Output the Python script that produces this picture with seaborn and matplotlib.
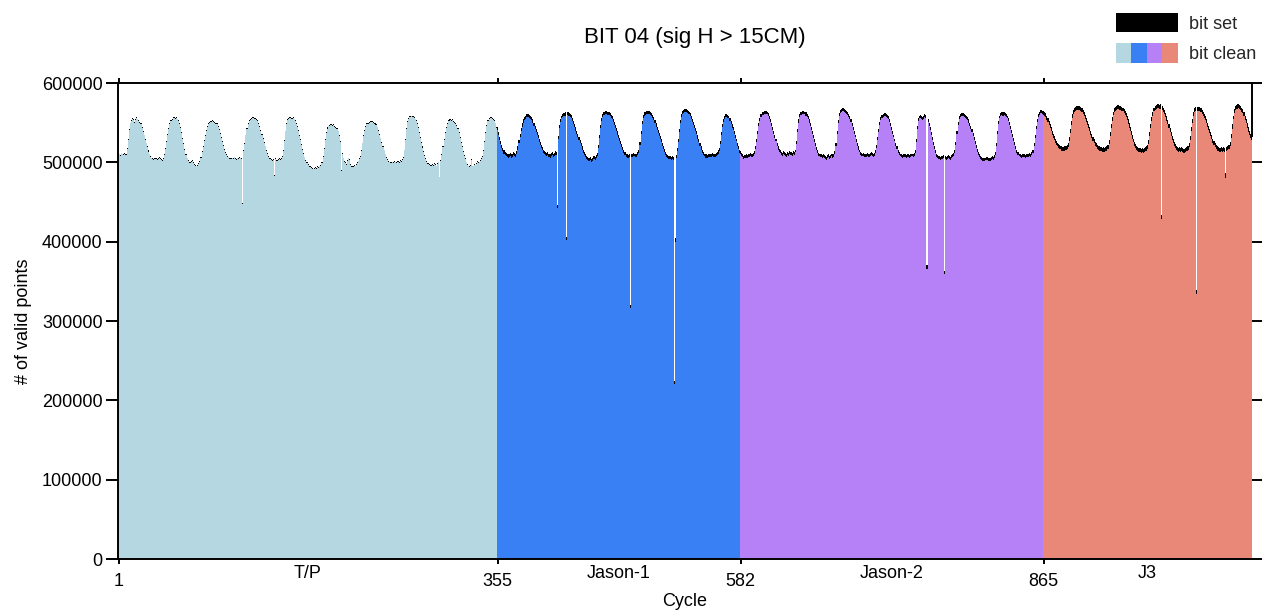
import numpy as np
import pandas as pd
import matplotlib
matplotlib.use("Agg")
import matplotlib.pyplot as plt
import seaborn as sns
from matplotlib.patches import Patch, Rectangle
from matplotlib.legend_handler import HandlerBase
from matplotlib.ticker import FixedLocator, FixedFormatter

TITLE = "BIT 04 (sig H > 15CM)"
MISSIONS = ["T/P", "Jason-1", "Jason-2", "J3"]
COLORS = ["#b5d7e1", "#3a80f5", "#b680f6", "#e98878"]
Y_TICKS = [0, 100000, 200000, 300000, 400000, 500000, 600000]

# number of valid points per cycle (total, in thousands)
TP_TOTAL = [
    510, 511, 509, 512, 511, 510, 512, 511,
    518, 530, 542, 550, 553,
    556, 554, 551, 555, 557, 555, 553, 551, 549,
    545, 540, 535, 530, 525, 520, 515, 511, 508, 506,
    505, 504, 505, 506, 504, 505, 507, 506, 504, 503, 506,
    510, 518, 527, 536, 543, 549, 553, 555,
    557, 557, 556, 557, 555, 553,
    549, 544, 538, 531, 524, 517, 511, 506, 503,
    501, 500, 502, 503, 500, 498, 497, 496, 497, 499, 502,
    507, 514, 521, 528, 535, 541, 546, 549, 551,
    552, 552, 553, 552, 551, 550, 549,
    546, 542, 537, 532, 527, 522, 517, 513, 510, 508, 507, 506,
    505, 506, 505, 507, 505, 504, 506, 505, 507, 506, 505,
    449,
    515, 525, 535, 543, 549, 553, 555,
    556, 557, 557, 556, 556, 555, 553,
    550, 546, 541, 536, 531, 526, 521, 516, 512, 508, 506, 505, 504,
    503, 504, 484, 505, 503, 504, 505, 504, 506, 508,
    515, 528, 540, 549, 554,
    556, 557, 557, 556, 557, 555, 553,
    550, 546, 541, 535, 529, 523, 517, 512, 507, 503, 500, 498, 496, 495,
    494, 493, 492, 493, 494, 493, 495, 494, 496, 497, 500,
    508, 518, 529, 538, 544,
    546, 547, 548, 548, 547, 548, 546, 545, 543, 540,
    535, 527, 490, 512, 506, 502,
    500, 498, 503, 506, 504, 498, 496, 495, 497, 496, 498, 500, 502, 505, 508,
    515, 525, 534, 541, 546, 549,
    550, 551, 552, 552, 552, 551, 550, 549, 548,
    545, 541, 536, 531, 526, 521, 516, 511, 507, 504, 502, 501,
    500, 500, 501, 500, 502, 501, 500, 502, 501, 503, 502, 504, 507,
    516, 530, 543, 552,
    556, 558, 559, 559, 558, 557, 555, 553,
    549, 544, 538, 532, 526, 520, 514, 509, 505, 502, 499,
    498, 497, 497, 498, 497, 499, 498, 496, 499, 501, 482, 503,
    510, 520, 530, 538, 545, 550, 553,
    554, 554, 553, 554, 552, 551, 549, 547,
    543, 538, 532, 526, 520, 514, 509, 505, 501, 498,
    496, 495, 497, 504, 496, 498, 497, 499, 502, 500, 501, 503, 505, 508,
    516, 527, 538, 547, 553,
    556, 557, 557, 556, 555, 553, 550, 545,
]

J1_TOTAL = [
    544, 538, 532, 527, 522, 518, 515, 513,
    512, 511, 510, 511, 512, 510, 511, 513, 512, 511, 514,
    520, 528, 536, 543, 549, 554, 557, 559,
    561, 561, 561, 560, 559, 557,
    554, 550, 546, 542, 538, 534, 530, 526, 522, 519, 516, 514,
    513, 512, 513, 511, 510, 512, 513, 511, 512, 514, 513,
    446,
    533, 547, 555, 559,
    561, 562, 563,
    406,
    563, 563, 562, 561, 560,
    556, 552, 548, 544, 540, 536, 532, 528, 524, 520, 516, 513,
    510, 508, 507, 506, 505, 507, 504, 506, 508, 507, 509, 512,
    522, 535, 547, 556, 561,
    563, 564, 565, 565, 564, 563, 562, 560, 558,
    555, 551, 547, 543, 539, 535, 531, 527, 523, 519, 516, 513,
    511, 510, 509, 510, 320, 511, 510, 512, 511, 510, 511, 513, 516,
    526, 540, 552, 560,
    563, 564, 565, 565, 565, 565, 564, 562, 560,
    557, 553, 549, 545, 541, 537, 533, 529, 525, 521, 517, 513, 510,
    509, 508, 508, 507, 508, 507, 224, 404, 509,
    518, 530, 542, 553, 561, 565,
    566, 567, 567, 566, 565, 564, 562,
    559, 555, 551, 547, 543, 539, 534, 530, 525, 520, 516, 513,
    511, 510, 510, 509, 510, 510, 511, 510, 512, 511, 510, 512, 513, 515, 518,
    527, 538, 548, 555, 559,
    561, 561, 560, 559,
    556, 552, 548, 544, 540, 535, 530, 525, 520, 516,
]

J2_TOTAL = [
    514, 512, 510, 508, 509, 510, 509, 511, 510, 512, 511, 510, 512, 514,
    520, 530, 540, 549, 556, 561, 563,
    564, 565, 565, 565, 564, 562,
    559, 555, 550, 545, 540, 535, 530, 525, 520, 517, 515,
    513, 512, 514, 513, 512, 511, 513, 512, 514, 513, 512, 514, 513, 516,
    527, 542, 554, 561,
    563, 564, 565, 565, 564, 563, 561,
    558, 554, 549, 544, 539, 534, 529, 524, 519, 515, 512,
    511, 510, 509, 510, 509, 508, 507, 509, 510, 508, 509, 511, 510, 511, 514,
    525, 540, 553, 562, 566,
    567, 568, 568, 567, 566, 565, 563, 561,
    558, 554, 550, 545, 540, 535, 530, 525, 520, 516, 513, 512,
    511, 512, 510, 511, 512, 511, 510, 512, 513, 512, 511, 512, 515,
    522, 532, 542, 551, 557, 560,
    561, 562, 562, 561, 560, 558,
    555, 550, 545, 540, 535, 530, 525, 520, 516, 513, 511,
    510, 509, 510, 511, 510, 509, 511, 510, 509, 510, 511, 510, 512, 516,
    530, 546, 556,
    559, 560, 558, 557, 559, 561, 560,
    370,
    555, 550, 544, 538, 532, 526, 520, 515, 511, 509,
    508, 508, 507, 508, 509, 363, 508, 507, 508, 509, 508, 507, 509, 510, 512, 516,
    526, 540, 551, 558, 561,
    562, 562, 562, 561, 560, 559, 557,
    554, 550, 546, 542, 537, 532, 527, 522, 517, 513, 510, 508,
    507, 506, 506, 505, 506, 507, 506, 505, 506, 507, 508, 507, 509, 513,
    525, 540, 552, 559, 562,
    563, 563, 563, 562, 561, 559,
    556, 551, 546, 541, 536, 531, 526, 521, 516, 513, 511,
    510, 509, 510, 511, 510, 509, 510, 511, 510, 512, 511, 513, 516,
    524, 535, 546, 555, 561, 564,
    566, 566, 565,
]

J3_TOTAL = [
    565, 564, 562, 559, 556, 552, 548, 544, 540, 536, 533, 530, 527, 525, 523, 522,
    521, 520, 519, 520, 520, 521, 522, 524,
    532, 542, 552, 561, 566, 569,
    570, 571, 571, 571, 570, 569, 568, 566,
    563, 560, 556, 552, 548, 544, 540, 536, 532, 529, 526, 524, 522, 521, 520, 519,
    519, 518, 519, 518, 519, 520, 522,
    528, 538, 548, 557, 564, 568, 570,
    571, 572, 572, 571, 571, 570, 569, 567, 565,
    562, 558, 554, 549, 544, 539, 534, 530, 526, 523, 521, 519,
    518, 518, 517, 518, 517, 518, 519, 520, 522,
    528, 538, 548, 557, 564, 569, 571,
    572, 573, 573, 572, 573, 434, 571, 569,
    566, 562, 558, 553, 548, 543, 538, 533, 529, 526, 523, 521, 519,
    518, 519, 518, 519, 518, 517, 518, 519, 520, 521, 524,
    533, 545, 555, 563, 568,
    570, 339, 570, 570, 569, 568, 566, 564,
    561, 558, 554, 550, 546, 542, 538, 534, 530, 527, 524, 522, 520, 519, 518, 518,
    519, 518, 519, 518, 486, 519, 520, 522, 526,
    536, 548, 559, 567, 571,
    572, 573, 573, 572, 571, 569, 567,
    563, 559, 554, 549, 544, 540, 536, 533,
]

# "bit set" part of each cycle (thousands)
TP_SET = [
    1.2, 1.0, 1.4, 0.8, 1.1, 1.3, 0.9, 1.2, 1.0, 1.5,
    1.1, 0.9, 1.3, 1.0, 1.2, 0.8, 1.4, 1.1, 1.0, 1.3,
    0.9, 1.2, 1.1, 1.5, 1.0, 1.3, 0.8, 1.2, 1.4, 1.0,
    1.3, 1.1, 0.9, 1.2, 1.0, 1.4, 1.1, 0.8, 1.3, 1.2,
    1.0, 1.4, 1.2, 0.9, 1.1, 1.3, 1.0, 1.5, 0.9, 1.1,
    1.2, 0.8, 1.3, 1.1, 1.4, 1.0, 1.2, 0.9, 1.3, 1.1,
    1.4, 1.0, 1.1, 1.3, 0.9, 1.2, 1.5, 1.0, 1.1, 0.8,
    1.1, 1.3, 1.0, 1.2, 1.4, 0.9, 1.1, 1.3, 1.0, 1.2,
    0.8, 1.2, 1.4, 1.0, 1.1, 1.3, 0.9, 1.2, 1.5, 1.0,
    1.3, 1.1, 1.0, 1.4, 0.9, 1.2, 1.1, 1.3, 1.0, 1.2,
    1.0, 1.3, 1.2, 0.9, 1.4, 1.1, 1.0, 1.2, 0.8, 1.3,
    1.2, 1.1, 1.4, 1.0, 0.9, 1.3, 1.2, 1.0, 1.5, 1.1,
    0.9, 1.0, 1.2, 1.3, 1.1, 0.8, 1.4, 1.2, 1.0, 1.1,
    1.3, 1.2, 0.9, 1.1, 1.0, 1.4, 1.3, 0.9, 1.2, 1.0,
    1.1, 1.4, 1.0, 1.2, 1.3, 1.0, 0.9, 1.1, 1.4, 1.2,
    1.0, 0.9, 1.3, 1.1, 1.2, 1.5, 1.0, 1.3, 0.9, 1.1,
    1.2, 1.3, 1.1, 0.8, 1.0, 1.2, 1.4, 1.1, 1.0, 1.3,
    1.4, 1.0, 1.2, 1.3, 0.9, 1.1, 1.0, 1.2, 1.3, 0.9,
    1.1, 1.2, 1.0, 1.4, 1.3, 0.9, 1.2, 1.0, 1.1, 1.5,
    0.9, 1.3, 1.1, 1.0, 1.2, 1.4, 0.8, 1.3, 1.2, 1.0,
    1.3, 1.0, 1.4, 1.2, 1.1, 1.0, 1.3, 0.9, 1.1, 1.2,
    1.0, 1.2, 0.9, 1.3, 1.4, 1.1, 1.0, 1.2, 1.3, 0.9,
    1.2, 1.1, 1.3, 1.0, 0.9, 1.2, 1.5, 1.1, 1.0, 1.3,
    1.1, 0.9, 1.2, 1.4, 1.0, 1.3, 1.1, 1.0, 1.2, 1.4,
    1.4, 1.2, 1.0, 1.1, 1.3, 0.9, 1.2, 1.4, 1.0, 1.1,
    1.0, 1.3, 1.1, 1.2, 0.8, 1.4, 1.0, 1.1, 1.3, 1.2,
    1.2, 1.0, 1.3, 0.9, 1.1, 1.2, 1.3, 1.0, 1.4, 1.1,
    0.9, 1.1, 1.2, 1.3, 1.0, 1.4, 1.2, 0.9, 1.1, 1.3,
    1.3, 1.2, 1.0, 1.1, 1.4, 1.0, 0.9, 1.3, 1.2, 1.0,
    1.1, 1.4, 1.3, 1.0, 1.2, 1.1, 1.3, 1.0, 0.9, 1.2,
    1.0, 1.1, 0.9, 1.2, 1.3, 1.5, 1.1, 1.2, 1.0, 1.4,
    1.2, 1.3, 1.1, 1.0, 0.9, 1.2, 1.4, 1.1, 1.3, 1.0,
    1.4, 1.0, 1.2, 1.3, 1.1, 0.9, 1.0, 1.2, 1.1, 1.3,
    1.1, 1.2, 1.0, 0.9, 1.3, 1.4, 1.2, 1.0, 1.3, 1.1,
    1.0, 1.3, 1.2, 1.1, 1.0, 1.2, 0.9, 1.4, 1.1, 1.2,
    1.3, 1.1, 1.0, 1.2,
]

J1_SET = [
    3.8, 3.6, 4.0, 4.3, 3.7, 3.9, 4.2, 3.5, 3.8, 4.1,
    4.0, 3.7, 3.9, 4.2, 3.8, 3.6, 4.1, 3.9, 3.7, 4.0,
    3.6, 4.1, 3.8, 4.0, 4.3, 3.7, 3.9, 3.8, 4.2, 3.6,
    3.9, 3.8, 3.6, 4.1, 4.0, 4.2, 3.7, 3.9, 3.8, 4.0,
    4.2, 3.7, 4.0, 3.8, 3.6, 3.9, 4.1, 3.8, 3.7, 4.3,
    3.8, 4.0, 3.9, 3.7, 4.2, 3.8, 3.6, 4.0, 4.1, 3.9,
    3.7, 3.9, 4.1, 4.0, 3.8, 3.6, 4.2, 3.9, 3.8, 3.7,
    4.1, 3.8, 3.7, 3.9, 4.0, 4.3, 3.8, 3.6, 4.0, 3.9,
    3.9, 4.2, 3.8, 3.6, 3.9, 4.0, 3.7, 4.1, 3.8, 4.0,
    3.6, 3.8, 4.0, 3.9, 3.7, 4.1, 3.9, 3.8, 4.2, 3.7,
    4.0, 3.9, 3.7, 4.1, 3.8, 4.0, 3.6, 3.9, 3.8, 4.1,
    3.8, 3.7, 4.1, 3.9, 4.2, 3.8, 4.0, 3.7, 3.9, 3.8,
    4.2, 4.0, 3.8, 3.7, 3.9, 4.1, 3.8, 4.0, 3.6, 3.9,
    3.7, 3.8, 3.9, 4.2, 4.0, 3.7, 3.9, 4.1, 3.8, 4.0,
    3.9, 4.1, 3.6, 3.8, 4.0, 3.9, 4.2, 3.7, 4.0, 3.8,
    3.8, 3.9, 4.0, 3.7, 3.8, 4.2, 3.9, 3.8, 3.7, 4.1,
    4.1, 3.7, 3.9, 4.0, 3.6, 3.8, 4.0, 3.9, 4.1, 3.8,
    3.9, 3.8, 4.2, 3.8, 3.9, 3.7, 4.1, 4.0, 3.8, 3.6,
    3.7, 4.0, 3.8, 4.1, 3.9, 3.8, 3.7, 4.2, 3.9, 4.0,
    4.0, 3.8, 3.9, 3.6, 4.1, 4.0, 3.8, 3.9, 3.7, 3.9,
    3.8, 4.1, 3.7, 3.9, 3.8, 4.0, 4.2, 3.8, 3.9, 3.7,
    3.9, 3.7, 4.0, 3.8, 4.1, 3.9, 3.6, 4.0, 3.8, 4.2,
    3.8, 4.0, 3.9, 3.7, 4.1, 3.8, 3.9,
]

J2_SET = [
    3.6, 3.8, 3.5, 3.9, 3.7, 4.0, 3.6, 3.8, 3.4, 3.7,
    3.8, 3.6, 3.9, 3.7, 3.5, 3.8, 4.0, 3.6, 3.7, 3.9,
    3.7, 3.9, 3.6, 3.8, 4.0, 3.5, 3.7, 3.8, 3.9, 3.6,
    3.9, 3.7, 3.8, 3.6, 3.8, 3.9, 3.5, 3.7, 4.0, 3.8,
    3.5, 3.8, 4.0, 3.7, 3.6, 3.8, 3.9, 3.6, 3.8, 3.7,
    3.8, 3.6, 3.7, 3.9, 3.8, 3.5, 3.8, 4.0, 3.6, 3.9,
    3.7, 4.0, 3.8, 3.6, 3.9, 3.7, 3.6, 3.8, 3.7, 3.8,
    3.9, 3.6, 3.7, 3.8, 3.5, 3.9, 3.8, 3.7, 4.0, 3.6,
    3.6, 3.8, 3.9, 3.7, 3.8, 3.6, 4.0, 3.8, 3.5, 3.8,
    3.8, 3.7, 3.6, 4.0, 3.7, 3.8, 3.7, 3.9, 3.8, 3.6,
    3.7, 3.9, 3.8, 3.5, 3.9, 3.7, 3.8, 3.6, 3.9, 3.8,
    4.0, 3.6, 3.7, 3.8, 3.6, 3.9, 3.7, 3.8, 3.6, 3.9,
    3.6, 3.8, 3.9, 3.7, 4.0, 3.8, 3.5, 3.7, 3.8, 3.7,
    3.8, 3.7, 3.6, 3.9, 3.8, 3.6, 3.9, 4.0, 3.7, 3.8,
    3.7, 3.9, 3.8, 3.6, 3.7, 3.8, 3.6, 3.8, 3.9, 3.5,
    3.9, 3.8, 3.7, 4.0, 3.6, 3.7, 3.8, 3.9, 3.6, 3.8,
    3.6, 3.7, 3.9, 3.8, 3.8, 4.0, 3.7, 3.6, 3.8, 3.9,
    3.8, 3.9, 3.6, 3.7, 3.9, 3.8, 3.8, 3.7, 4.0, 3.6,
    3.7, 3.8, 3.8, 3.9, 3.5, 3.7, 3.9, 3.8, 3.6, 3.8,
    3.9, 3.6, 3.8, 3.7, 3.8, 3.9, 3.7, 4.0, 3.8, 3.7,
    3.8, 3.9, 3.7, 3.6, 4.0, 3.8, 3.6, 3.7, 3.9, 3.8,
    3.6, 3.8, 4.0, 3.8, 3.7, 3.6, 3.8, 3.9, 3.7, 3.9,
    3.8, 3.7, 3.9, 3.8, 3.6, 3.9, 3.8, 3.7, 3.8, 3.6,
    3.7, 3.9, 3.6, 4.0, 3.8, 3.7, 3.9, 3.6, 3.8, 3.9,
    3.9, 3.8, 3.7, 3.6, 3.8, 4.0, 3.7, 3.8, 3.9, 3.7,
    3.8, 3.6, 3.8, 3.9, 3.7, 3.8, 3.6, 3.9, 3.7, 4.0,
    3.6, 3.9, 3.8, 3.7, 3.9, 3.6, 3.8, 3.8, 4.0, 3.7,
    3.8, 3.7, 3.9, 3.8, 3.6, 3.9, 3.7, 3.8, 3.6, 3.9,
    3.8, 3.7, 3.9,
]

J3_SET = [
    5.0, 5.2, 4.8, 5.4, 5.1, 4.9, 5.3, 5.0, 5.5, 4.8,
    5.2, 5.0, 5.4, 4.9, 5.1, 5.3, 4.8, 5.2, 5.0, 5.4,
    4.9, 5.3, 5.1, 5.0, 5.5, 4.8, 5.2, 5.1, 4.9, 5.3,
    5.1, 4.8, 5.2, 5.4, 5.0, 5.1, 4.9, 5.3, 5.2, 5.0,
    5.4, 5.1, 4.9, 5.0, 5.2, 5.5, 5.0, 4.8, 5.1, 5.3,
    5.0, 5.3, 5.2, 4.9, 5.1, 5.0, 5.4, 5.2, 4.8, 5.1,
    5.2, 4.9, 5.0, 5.3, 5.4, 4.9, 5.1, 5.0, 5.3, 5.2,
    4.8, 5.1, 5.4, 5.0, 4.9, 5.2, 5.3, 5.1, 5.0, 5.5,
    5.3, 5.0, 5.1, 5.2, 4.8, 5.4, 5.0, 4.9, 5.2, 5.1,
    5.1, 5.4, 4.9, 5.1, 5.3, 5.0, 5.2, 5.4, 4.9, 5.0,
    5.0, 5.2, 5.3, 4.8, 5.1, 5.2, 4.9, 5.1, 5.4, 5.2,
    5.4, 4.9, 5.0, 5.2, 5.0, 5.3, 5.1, 4.8, 5.2, 5.3,
    4.9, 5.1, 5.2, 5.4, 5.1, 4.9, 5.3, 5.2, 5.0, 4.9,
    5.2, 5.3, 4.8, 5.0, 5.2, 5.1, 5.0, 5.4, 5.1, 5.2,
    5.1, 5.0, 5.2, 5.3, 4.9, 5.4, 5.2, 5.0, 4.8, 5.1,
    5.3, 5.2, 5.0, 4.9, 5.1, 5.0, 5.3, 5.1, 5.2, 5.4,
    5.0, 4.8, 5.3, 5.2, 5.4, 5.1, 4.9, 5.2, 5.0, 5.1,
    5.2, 5.1, 5.0, 5.3, 4.9, 5.2, 5.4, 5.0, 5.1, 4.9,
    4.9, 5.4, 5.1, 5.0, 5.2, 5.3, 5.1, 4.8, 5.2, 5.0,
    5.1, 5.3, 5.0, 5.2, 5.1,
]

TOTALS = [TP_TOTAL, J1_TOTAL, J2_TOTAL, J3_TOTAL]
SETS = [TP_SET, J1_SET, J2_SET, J3_SET]
assert [len(t) for t in TOTALS] == [len(s) for s in SETS], ([len(t) for t in TOTALS], [len(s) for s in SETS])

# ---- build the table ----
rows = []
cycle = 1
starts, mids = [], []
for name, tot, st in zip(MISSIONS, TOTALS, SETS):
    starts.append(cycle)
    mids.append(cycle + (len(tot) - 1) / 2)
    for t, s in zip(tot, st):
        rows.append({"cycle": cycle, "mission": name,
                     "total": t * 1000.0, "set": s * 1000.0,
                     "clean": t * 1000.0 - s * 1000.0})
        cycle += 1
df = pd.DataFrame(rows)
last_cycle = int(df["cycle"].max())

# ---- style ----
sns.set_theme(style="ticks")
plt.rcParams["font.family"] = ["Liberation Sans", "DejaVu Sans"]
plt.rcParams["axes.linewidth"] = 1.4

W, H = 1262, 610
fig = plt.figure(figsize=(W / 100, H / 100), dpi=100)
ax = fig.add_axes([118 / W, 1 - 559 / H, (1252 - 118) / W, (559 - 83) / H])

bar_kw = dict(native_scale=True, width=1.0, errorbar=None, linewidth=0,
              antialiased=False, orient="x", saturation=1, ax=ax)
sns.barplot(data=df, x="cycle", y="total", color="black", **bar_kw)
sns.barplot(data=df, x="cycle", y="clean", hue="mission", hue_order=MISSIONS,
            palette=COLORS, dodge=False, legend=False, **bar_kw)

ax.set_xlim(0.5, last_cycle + 0.5)
ax.set_ylim(0, 600000)
ax.set_yticks(Y_TICKS)
ax.set_yticklabels([str(v) for v in Y_TICKS])
ax.xaxis.set_major_locator(FixedLocator(starts))
ax.xaxis.set_major_formatter(FixedFormatter([str(s) for s in starts]))
ax.xaxis.set_minor_locator(FixedLocator(mids))
ax.xaxis.set_minor_formatter(FixedFormatter(MISSIONS))

for sp in ax.spines.values():
    sp.set_visible(True)
    sp.set_color("black")
    sp.set_linewidth(1.4)
ax.spines["right"].set_bounds(df["total"].iloc[-1], 600000)

ax.tick_params(axis="x", which="major", direction="out", length=3.6, width=1.4,
               pad=6.5, labelsize=13, top=True, bottom=True, colors="black")
ax.tick_params(axis="x", which="minor", length=0, pad=4.3, labelsize=13,
               top=False, bottom=True, labelcolor="black")
ax.tick_params(axis="y", which="major", direction="out", length=8.6, width=1.4,
               pad=2.5, labelsize=13, left=True, right=True, colors="black")

ax.set_xlabel("Cycle", fontsize=13, labelpad=2, color="black")
ax.set_ylabel("# of valid points", fontsize=13, labelpad=7, color="black")
ax.grid(False)

fig.text(695 / W, 1 - 38 / H, TITLE, ha="center", va="center", fontsize=16, color="black")


class MultiColorHandler(HandlerBase):
    def __init__(self, colors):
        super().__init__()
        self.colors = colors

    def create_artists(self, legend, orig_handle, xdescent, ydescent, width,
                       height, fontsize, trans):
        n = len(self.colors)
        w = width / n
        return [Rectangle((-xdescent + i * w, -ydescent), w, height,
                          facecolor=c, edgecolor="none", lw=0, transform=trans)
                for i, c in enumerate(self.colors)]


set_handle = Patch(facecolor="black", edgecolor="none")
clean_handle = Patch(facecolor="none", edgecolor="none")
fig.legend([set_handle, clean_handle], ["bit set", "bit clean"],
           handler_map={clean_handle: MultiColorHandler(COLORS)},
           loc="upper right", bbox_to_anchor=(1256 / W, 1 - 13 / H),
           frameon=False, fontsize=13, handlelength=3.45, handleheight=1.25,
           handletextpad=0.6, labelspacing=0.6, borderpad=0, borderaxespad=0)

fig.savefig("out.png", dpi=100)
